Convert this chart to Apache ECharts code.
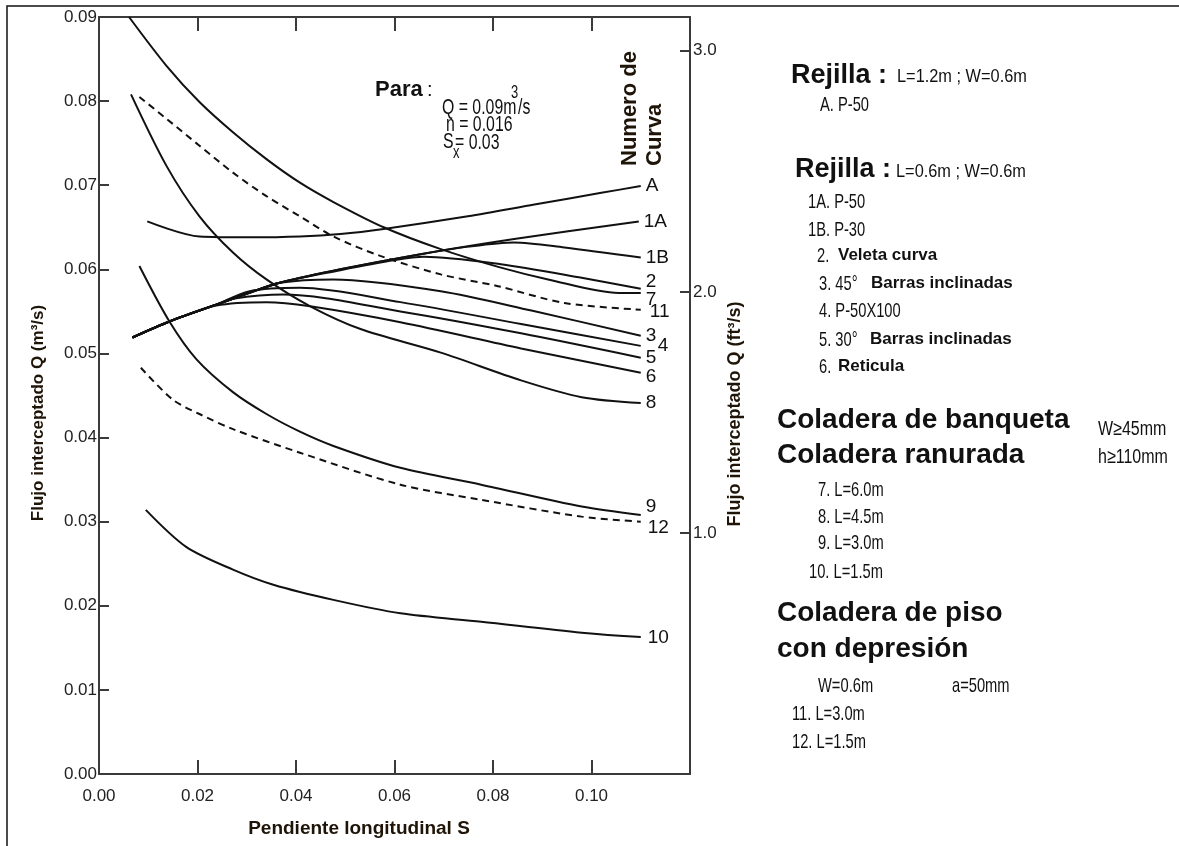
<!DOCTYPE html>
<html>
<head>
<meta charset="utf-8">
<script src="https://cdn.jsdelivr.net/npm/echarts@6.0.0/dist/echarts.min.js"></script>
<style>
html, body { margin: 0; padding: 0; background: #fff; }
#chart { width: 1179px; height: 846px; }
</style>
</head>
<body>
<div id="chart"></div>
<script>
// valores: [pendiente S, Q (m3/s)]
var curveA  = [[0.0098,0.0657],[0.0204,0.0639],[0.0306,0.0638],[0.0408,0.0639],[0.0490,0.0642],[0.0578,0.0648],[0.0749,0.0663],[0.0884,0.0677],[0.1020,0.0691],[0.1100,0.0699]];
var curve1A = [[0.0068,0.0519],[0.0143,0.0538],[0.0238,0.0558],[0.0367,0.0584],[0.0490,0.0600],[0.0653,0.0618],[0.0843,0.0636],[0.1096,0.0657]];
var curve1B = [[0.0068,0.0519],[0.0143,0.0538],[0.0238,0.0558],[0.0367,0.0584],[0.0490,0.0600],[0.0653,0.0618],[0.0750,0.0627],[0.0843,0.0632],[0.0945,0.0626],[0.1100,0.0614]];
var curve2  = [[0.0068,0.0519],[0.0143,0.0538],[0.0238,0.0558],[0.0367,0.0584],[0.0490,0.0599],[0.0600,0.0611],[0.0660,0.0615],[0.0816,0.0606],[0.0980,0.0590],[0.1100,0.0577]];
var curve3  = [[0.0068,0.0519],[0.0143,0.0538],[0.0238,0.0558],[0.0306,0.0572],[0.0367,0.0584],[0.0476,0.0588],[0.0694,0.0574],[0.0878,0.0551],[0.1100,0.0521]];
var curve4  = [[0.0068,0.0519],[0.0143,0.0538],[0.0238,0.0558],[0.0306,0.0574],[0.0408,0.0578],[0.0612,0.0561],[0.0857,0.0535],[0.1100,0.0509]];
var curve5  = [[0.0068,0.0519],[0.0143,0.0538],[0.0238,0.0558],[0.0272,0.0565],[0.0374,0.0570],[0.0612,0.0550],[0.0857,0.0524],[0.1100,0.0495]];
var curve6  = [[0.0068,0.0519],[0.0143,0.0538],[0.0238,0.0557],[0.0340,0.0561],[0.0429,0.0556],[0.0612,0.0537],[0.0857,0.0506],[0.1100,0.0477]];
var curve7  = [[0.0061,0.0900],[0.0137,0.0842],[0.0204,0.0799],[0.0272,0.0763],[0.0340,0.0731],[0.0408,0.0703],[0.0476,0.0680],[0.0578,0.0650],[0.0694,0.0624],[0.0816,0.0602],[0.0912,0.0588],[0.1055,0.0572],[0.1100,0.0572]];
var curve8  = [[0.0065,0.0808],[0.0137,0.0723],[0.0204,0.0663],[0.0272,0.0620],[0.0340,0.0588],[0.0429,0.0556],[0.0531,0.0529],[0.0694,0.0501],[0.0857,0.0468],[0.0980,0.0448],[0.1100,0.0441]];
var curve9  = [[0.0082,0.0604],[0.0143,0.0538],[0.0198,0.0493],[0.0272,0.0454],[0.0340,0.0428],[0.0408,0.0407],[0.0476,0.0390],[0.0612,0.0364],[0.0776,0.0344],[0.0980,0.0318],[0.1100,0.0308]];
var curve10 = [[0.0095,0.0314],[0.0177,0.0270],[0.0272,0.0243],[0.0354,0.0225],[0.0476,0.0207],[0.0612,0.0191],[0.0776,0.0181],[0.0980,0.0168],[0.1100,0.0163]];
var curve11 = [[0.0082,0.0805],[0.0137,0.0779],[0.0204,0.0747],[0.0272,0.0715],[0.0340,0.0687],[0.0408,0.0663],[0.0476,0.0639],[0.0571,0.0616],[0.0694,0.0594],[0.0810,0.0580],[0.0945,0.0560],[0.1100,0.0552]];
var curve12 = [[0.0085,0.0483],[0.0150,0.0445],[0.0204,0.0428],[0.0272,0.0410],[0.0408,0.0382],[0.0612,0.0344],[0.0776,0.0326],[0.0980,0.0306],[0.1100,0.0300]];

var curveNames = ['A','1A','1B','2','3','4','5','6','7','8','9','10','11','12'];
var curveData  = [curveA, curve1A, curve1B, curve2, curve3, curve4, curve5, curve6, curve7, curve8, curve9, curve10, curve11, curve12];

var xTicks = [0, 0.02, 0.04, 0.06, 0.08, 0.10, 0.12];
var yTicksM3 = [0, 0.01, 0.02, 0.03, 0.04, 0.05, 0.06, 0.07, 0.08, 0.09];
var yTicksFt3 = [1.0, 2.0, 3.0];

var SANS = '"Liberation Sans", Arial, sans-serif';
var AXC = '#3a3a3a';
var TXC = '#1e1408';

// desplazamiento de las etiquetas de numero de curva
var labelOffset = {
	'2': [0, -7], '7': [0, 7], '11': [4, 2], '4': [12, 0], '6': [0, 4],
	'9': [0, -8], '12': [2, 6], '10': [2, 1]
};

var series = [];
for (var i = 0; i < curveNames.length; i++) {
	var nm = curveNames[i];
	var dashed = (nm == '11' || nm == '12');
	series.push({
		name: nm,
		type: 'line',
		data: curveData[i],
		smooth: 0.3,
		symbol: 'none',
		silent: true,
		lineStyle: { color: '#111', width: 2, type: dashed ? [7, 5] : 'solid' },
		endLabel: {
			show: true,
			formatter: nm,
			distance: 5,
			offset: labelOffset[nm] || [0, 0],
			fontFamily: SANS,
			fontSize: 19,
			color: '#111'
		}
	});
}

// texto suelto; sx comprime en horizontal (letra estrecha)
function txt(x, y, s, font, extra, sx) {
	var st = { text: s, x: 0, y: 0, font: font, fill: '#111',
		textAlign: 'left', align: 'left', textVerticalAlign: 'middle', verticalAlign: 'middle' };
	var el = { type: 'text', x: x, y: y, z: 100, style: st };
	if (sx) el.scaleX = sx;
	if (extra) {
		for (var k in extra) {
			if (k == 'rotation') el.rotation = extra[k];
			else st[k] = extra[k];
		}
		if (extra.textAlign) st.align = extra.textAlign;
	}
	return el;
}
function nar(x, y, s, size, sx) {
	return txt(x, y, s, (size || 21) + 'px ' + SANS, null, sx || 0.7);
}

var boldHead = 'bold 27px ' + SANS;
var boldBig = 'bold 28px ' + SANS;
var boldItem = 'bold 17px ' + SANS;

var graphics = [
	// marco exterior
	{ type: 'rect', shape: { x: 7, y: 6, width: 1175, height: 860 }, style: { fill: 'none', stroke: '#111', lineWidth: 1.5 }, z: 0 },
	// titulos de ejes
	txt(359, 829, 'Pendiente longitudinal S', 'bold 19px ' + SANS, { textAlign: 'center', fill: TXC }),
	txt(38, 413, 'Flujo interceptado Q (m³/s)', 'bold 17px ' + SANS, { textAlign: 'center', rotation: Math.PI / 2, fill: TXC }),
	txt(735, 414, 'Flujo interceptado Q (ft³/s)', 'bold 18px ' + SANS, { textAlign: 'center', rotation: Math.PI / 2, fill: TXC }),
	txt(630, 166, 'Numero de', 'bold 22px ' + SANS, { rotation: Math.PI / 2, fill: TXC }),
	txt(655, 166, 'Curva', 'bold 22px ' + SANS, { rotation: Math.PI / 2, fill: TXC }),
	// parametros
	txt(375, 90, 'Para', 'bold 22px ' + SANS),
	txt(427, 90, ':', '20px ' + SANS),
	nar(442, 108, 'Q = 0.09m', 22, 0.72),
	nar(511, 93, '3', 18, 0.72),
	nar(518, 108, '/s', 22, 0.72),
	nar(446, 125, 'n = 0.016', 22, 0.72),
	nar(443, 142, 'S', 22, 0.72),
	nar(453, 153, 'x', 18, 0.72),
	nar(455, 143, '= 0.03', 22, 0.72),
	// leyenda rejillas
	txt(791, 76, 'Rejilla', boldHead),
	txt(878, 76, ':', boldHead),
	nar(897, 77, 'L=1.2m ; W=0.6m', 19, 0.86),
	nar(820, 105, 'A. P-50', 21),
	txt(795, 170, 'Rejilla', boldHead),
	txt(882, 170, ':', boldHead),
	nar(896, 172, 'L=0.6m ; W=0.6m', 19, 0.86),
	nar(808, 202, '1A. P-50', 21),
	nar(808, 230, '1B. P-30', 21),
	nar(817, 256, '2.', 21),
	txt(838, 255, 'Veleta curva', boldItem),
	nar(819, 284, '3. 45°', 21),
	txt(871, 283, 'Barras inclinadas', boldItem),
	nar(819, 311, '4. P-50X100', 21),
	nar(819, 340, '5. 30°', 21),
	txt(870, 339, 'Barras inclinadas', boldItem),
	nar(819, 367, '6.', 21),
	txt(838, 366, 'Reticula', boldItem),
	// coladeras
	txt(777, 420, 'Coladera de banqueta', boldBig),
	txt(777, 455, 'Coladera ranurada', boldBig),
	nar(1098, 429, 'W≥45mm', 20, 0.8),
	nar(1098, 457, 'h≥110mm', 20, 0.8),
	nar(818, 490, '7. L=6.0m', 21),
	nar(818, 517, '8. L=4.5m', 21),
	nar(818, 543, '9. L=3.0m', 21),
	nar(809, 572, '10. L=1.5m', 21),
	txt(777, 613, 'Coladera de piso', boldBig),
	txt(777, 649, 'con depresión', boldBig),
	nar(818, 686, 'W=0.6m', 21),
	nar(952, 686, 'a=50mm', 21),
	nar(792, 714, '11. L=3.0m', 21),
	nar(792, 742, '12. L=1.5m', 21)
];

var myChart = echarts.init(document.getElementById('chart'));
myChart.setOption({
	animation: false,
	backgroundColor: '#fff',
	grid: { left: 99, top: 17, width: 591, height: 757, containLabel: false },
	xAxis: [
		{
			type: 'value', position: 'bottom', min: xTicks[0], max: xTicks[xTicks.length - 1], interval: 0.02,
			axisLine: { show: true, onZero: false, lineStyle: { color: AXC, width: 2 } },
			axisTick: { show: true, inside: true, length: 14, lineStyle: { color: AXC, width: 2 } },
			axisLabel: {
				margin: 14, fontFamily: SANS, fontSize: 17, color: '#222',
				formatter: function(v) { return v > 0.11 ? '' : v.toFixed(2); }
			},
			splitLine: { show: false }
		},
		{
			type: 'value', position: 'top', min: xTicks[0], max: xTicks[xTicks.length - 1], interval: 0.02,
			axisLine: { show: true, onZero: false, lineStyle: { color: AXC, width: 2 } },
			axisTick: { show: true, inside: true, length: 14, lineStyle: { color: AXC, width: 2 } },
			axisLabel: { show: false },
			splitLine: { show: false }
		}
	],
	yAxis: [
		{
			type: 'value', position: 'left', min: yTicksM3[0], max: yTicksM3[yTicksM3.length - 1], interval: 0.01,
			axisLine: { show: true, onZero: false, lineStyle: { color: AXC, width: 2 } },
			axisTick: { show: true, inside: true, length: 10, lineStyle: { color: AXC, width: 2 } },
			axisLabel: { margin: 2, fontFamily: SANS, fontSize: 17, color: '#222', formatter: function(v) { return v.toFixed(2); } },
			splitLine: { show: false }
		},
		{
			type: 'value', position: 'right', min: 0, max: 3.14, interval: 1,
			axisLine: { show: true, onZero: false, lineStyle: { color: AXC, width: 2 } },
			axisTick: { show: true, inside: true, length: 10, lineStyle: { color: AXC, width: 2 } },
			axisLabel: {
				margin: 3, fontFamily: SANS, fontSize: 17, color: '#222',
				formatter: function(v) { return yTicksFt3.indexOf(v) >= 0 ? v.toFixed(1) : ''; }
			},
			splitLine: { show: false }
		}
	],
	series: series,
	graphic: graphics
});
</script>
</body>
</html>
